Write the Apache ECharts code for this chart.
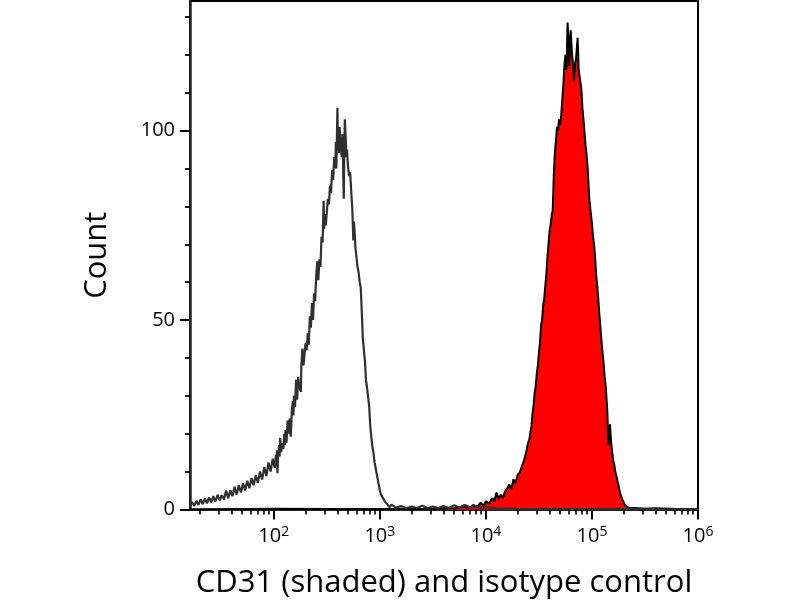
<!DOCTYPE html>
<html>
<head>
<meta charset="utf-8">
<script src="https://cdn.jsdelivr.net/npm/echarts@6/dist/echarts.min.js"></script>
<style>
  html, body { margin: 0; padding: 0; background: #fff; }
  #main { width: 800px; height: 600px; }
</style>
</head>
<body>
<div id="main"></div>
<script>
// x values are log10 of the fluorescence channel, y is the event count
var isotypeHist = [
  [1.21, 0.8], [1.23, 2.0], [1.25, 0.9], [1.27, 2.3], [1.29, 1.2], [1.31, 2.7], [1.33, 1.4], [1.35, 2.9],
  [1.37, 1.6], [1.39, 3.2], [1.41, 1.9], [1.43, 3.5], [1.45, 2.1], [1.47, 3.9], [1.49, 2.4], [1.51, 3.8],
  [1.53, 2.6], [1.55, 5.0], [1.57, 3.0], [1.59, 5.1], [1.61, 3.5], [1.63, 6.0], [1.65, 3.9], [1.67, 6.4],
  [1.69, 4.5], [1.71, 6.9], [1.73, 5.0], [1.75, 7.6], [1.77, 5.6], [1.79, 8.3], [1.81, 6.4], [1.83, 9.1],
  [1.85, 7.0], [1.87, 10.0], [1.89, 7.9], [1.91, 11.2], [1.93, 8.8], [1.95, 12.4], [1.97, 10.0], [1.99, 13.4],
  [2.00, 12.0], [2.01, 11.0], [2.02, 14.5], [2.025, 12.0], [2.03, 15.6], [2.035, 9.6], [2.04, 13.5], [2.05, 17.0],
  [2.055, 14.0], [2.06, 18.9], [2.07, 15.2], [2.08, 17.5], [2.09, 16.0], [2.10, 20.0], [2.105, 17.0], [2.11, 21.0],
  [2.12, 17.6], [2.13, 23.5], [2.14, 20.0], [2.15, 24.0], [2.16, 19.2], [2.17, 26.0], [2.18, 28.6], [2.185, 24.8],
  [2.19, 30.0], [2.20, 27.0], [2.21, 34.2], [2.22, 29.0], [2.23, 35.0], [2.24, 32.5], [2.25, 33.0], [2.255, 31.0],
  [2.26, 38.0], [2.27, 42.5], [2.28, 38.0], [2.29, 41.0], [2.30, 44.0], [2.31, 42.0], [2.32, 46.5], [2.33, 43.5],
  [2.34, 51.0], [2.35, 48.0], [2.36, 54.5], [2.37, 50.0], [2.38, 57.0], [2.39, 55.0], [2.40, 61.5], [2.41, 65.5],
  [2.42, 60.5], [2.43, 66.0], [2.44, 64.0], [2.45, 72.0], [2.46, 70.5], [2.47, 81.5], [2.475, 74.0], [2.48, 78.0],
  [2.49, 75.0], [2.50, 78.5], [2.51, 82.0], [2.52, 80.5], [2.53, 85.5], [2.54, 83.5], [2.55, 89.5], [2.56, 87.0],
  [2.57, 93.0], [2.58, 90.0], [2.585, 97.0], [2.59, 90.0], [2.60, 106.0], [2.605, 95.0], [2.61, 99.0], [2.615, 94.0],
  [2.62, 101.0], [2.63, 97.5], [2.64, 93.0], [2.65, 99.0], [2.655, 88.0], [2.66, 82.0], [2.665, 95.0], [2.67, 103.0],
  [2.68, 97.0], [2.685, 93.0], [2.69, 95.0], [2.70, 90.5], [2.71, 88.0], [2.72, 89.0], [2.73, 84.0], [2.74, 79.5],
  [2.75, 71.0], [2.755, 76.0], [2.76, 74.5], [2.77, 69.0], [2.78, 66.5], [2.79, 64.0], [2.80, 62.5], [2.81, 60.0],
  [2.82, 58.5], [2.83, 52.0], [2.84, 45.0], [2.85, 42.0], [2.86, 39.0], [2.87, 34.0], [2.88, 32.0], [2.89, 29.5],
  [2.90, 27.0], [2.91, 22.0], [2.92, 19.0], [2.93, 16.5], [2.94, 15.0], [2.95, 12.5], [2.96, 11.0], [2.97, 9.5],
  [2.98, 8.0], [2.99, 6.5], [3.00, 5.0], [3.01, 4.0], [3.03, 3.0], [3.05, 2.0], [3.07, 1.4], [3.09, 0.6],
  [3.11, 1.3], [3.15, 0.5], [3.20, 0.9], [3.25, 0.3], [3.30, 0.8], [3.35, 0.4], [3.40, 1.0], [3.45, 0.4],
  [3.50, 0.8], [3.55, 0.3], [3.60, 0.9], [3.65, 0.4], [3.70, 1.1], [3.75, 0.5], [3.80, 1.2], [3.85, 0.6],
  [3.90, 0.9], [3.95, 0.5], [4.00, 0.6], [4.10, 0.3], [4.30, 0.2], [4.60, 0.1], [5.00, 0.1], [5.40, 0.2],
  [5.60, 0.1], [6.00, 0.0]
];

var cd31Hist = [
  [1.21, 0.0], [2.00, 0.2], [2.50, 0.1], [3.20, 0.1], [3.50, 0.2], [3.70, 0.4], [3.80, 0.8], [3.85, 0.5],
  [3.88, 1.2], [3.92, 0.7], [3.95, 1.8], [3.98, 1.0], [4.00, 2.2], [4.03, 1.5], [4.06, 3.0], [4.08, 2.2],
  [4.10, 4.5], [4.12, 2.8], [4.14, 3.9], [4.16, 3.0], [4.18, 4.8], [4.20, 5.5], [4.22, 6.6], [4.24, 5.4],
  [4.26, 8.0], [4.28, 7.0], [4.30, 9.2], [4.32, 9.8], [4.34, 11.5], [4.36, 13.0], [4.38, 15.2], [4.40, 17.8],
  [4.41, 18.5], [4.42, 20.5], [4.43, 22.0], [4.44, 25.5], [4.45, 27.5], [4.46, 31.0], [4.47, 32.5], [4.48, 36.0],
  [4.49, 38.0], [4.50, 41.5], [4.51, 44.0], [4.52, 48.5], [4.53, 50.0], [4.54, 54.0], [4.55, 55.5], [4.56, 59.0],
  [4.57, 62.0], [4.58, 66.5], [4.59, 70.0], [4.60, 73.5], [4.61, 75.0], [4.62, 77.5], [4.63, 79.0], [4.64, 88.0],
  [4.65, 94.0], [4.66, 97.0], [4.67, 101.0], [4.68, 100.0], [4.69, 103.0], [4.70, 101.5], [4.71, 104.0], [4.72, 108.0],
  [4.73, 112.0], [4.74, 117.0], [4.75, 120.0], [4.76, 116.0], [4.77, 128.5], [4.78, 124.0], [4.785, 117.0], [4.80, 126.5],
  [4.81, 121.0], [4.82, 118.0], [4.83, 113.0], [4.84, 117.5], [4.85, 119.0], [4.865, 124.5], [4.875, 116.0], [4.89, 113.0],
  [4.90, 111.0], [4.91, 106.0], [4.92, 103.0], [4.93, 99.5], [4.94, 96.0], [4.95, 93.5], [4.96, 90.0], [4.975, 82.0],
  [4.99, 78.0], [5.00, 75.5], [5.01, 72.0], [5.02, 70.0], [5.03, 66.5], [5.04, 62.0], [5.05, 59.0], [5.06, 55.5],
  [5.07, 51.5], [5.08, 48.0], [5.09, 44.5], [5.10, 41.5], [5.11, 38.5], [5.12, 35.0], [5.13, 32.5], [5.145, 26.0],
  [5.155, 17.0], [5.17, 22.5], [5.18, 18.0], [5.19, 15.5], [5.20, 13.0], [5.21, 12.0], [5.22, 10.0], [5.23, 9.0],
  [5.24, 7.5], [5.25, 6.5], [5.26, 5.0], [5.27, 4.0], [5.29, 2.5], [5.31, 1.2], [5.33, 0.7], [5.36, 0.3],
  [5.40, 0.4], [5.50, 0.2], [5.60, 0.3], [5.80, 0.1], [6.00, 0.0]
];

var xMajorDecades = [2, 3, 4, 5, 6];
var xMinorDecades = [1, 2, 3, 4, 5];
var xMinorSteps = [2, 3, 4, 5, 6, 7, 8, 9];
var yMajorTicks = [0, 50, 100];
var yMinorTicks = [10, 20, 30, 40, 60, 70, 80, 90, 110, 120, 130];

var xMin = 1.21, xMax = 6, yMax = 134.2;
var xMinorTicks = [];
xMinorDecades.forEach(function (d) {
  xMinorSteps.forEach(function (k) {
    var v = d + Math.log10(k);
    if (v > xMin) xMinorTicks.push(v);
  });
});

var font = 'Open Sans';
var myChart = echarts.init(document.getElementById('main'));
myChart.setOption({
  animation: false,
  backgroundColor: '#fff',
  grid: {
    left: 190, right: 102, top: 1, bottom: 90.5,
    containLabel: false, outerBoundsMode: 'none',
    show: true, borderColor: '#000', borderWidth: 2, backgroundColor: 'transparent'
  },
  xAxis: [
    {
      type: 'value', min: xMin, max: xMax, position: 'bottom',
      axisLine: { show: true, lineStyle: { color: '#222', width: 2 } },
      axisTick: { show: true, customValues: xMajorDecades, length: 10, lineStyle: { color: '#000', width: 2 } },
      axisLabel: {
        customValues: xMajorDecades, margin: 16, color: '#000',
        formatter: function (v) { return '{b|10}{s|' + v + '}'; },
        rich: {
          b: { fontSize: 20, fontFamily: font, color: '#000' },
          s: { fontSize: 14, fontFamily: font, color: '#000', verticalAlign: 'top', padding: [0, 0, 8, 0] }
        }
      },
      splitLine: { show: false },
      name: 'CD31 (shaded) and isotype control',
      nameLocation: 'middle', nameGap: 58,
      nameTextStyle: { fontSize: 31, fontFamily: font, color: '#000' }
    },
    {
      type: 'value', min: xMin, max: xMax, position: 'bottom',
      axisLine: { show: false },
      axisTick: { show: true, customValues: xMinorTicks, length: 5, lineStyle: { color: '#000', width: 1.6 } },
      axisLabel: { show: false },
      splitLine: { show: false }
    }
  ],
  yAxis: [
    {
      type: 'value', min: 0, max: yMax, position: 'left',
      axisLine: { show: true, lineStyle: { color: '#222', width: 2.5 } },
      axisTick: { show: true, customValues: yMajorTicks, length: 10, lineStyle: { color: '#000', width: 2 } },
      axisLabel: { customValues: yMajorTicks, margin: 15, fontSize: 20, fontFamily: font, color: '#000' },
      splitLine: { show: false },
      name: 'Count', nameLocation: 'middle', nameGap: 77, nameRotate: 90,
      nameTextStyle: { fontSize: 31, fontFamily: font, color: '#000' }
    },
    {
      type: 'value', min: 0, max: yMax, position: 'left',
      axisLine: { show: false },
      axisTick: { show: true, customValues: yMinorTicks, length: 5, lineStyle: { color: '#000', width: 1.8 } },
      axisLabel: { show: false },
      splitLine: { show: false }
    }
  ],
  series: [
    {
      name: 'CD31', type: 'line', xAxisIndex: 0, yAxisIndex: 0,
      data: cd31Hist, showSymbol: false, symbol: 'none',
      lineStyle: { color: '#000', width: 2 },
      areaStyle: { color: '#ff0000', opacity: 1 },
      z: 2
    },
    {
      name: 'Isotype', type: 'line', xAxisIndex: 0, yAxisIndex: 0,
      data: isotypeHist, showSymbol: false, symbol: 'none',
      lineStyle: { color: '#303030', width: 2.2 },
      z: 3
    }
  ]
});
</script>
</body>
</html>
